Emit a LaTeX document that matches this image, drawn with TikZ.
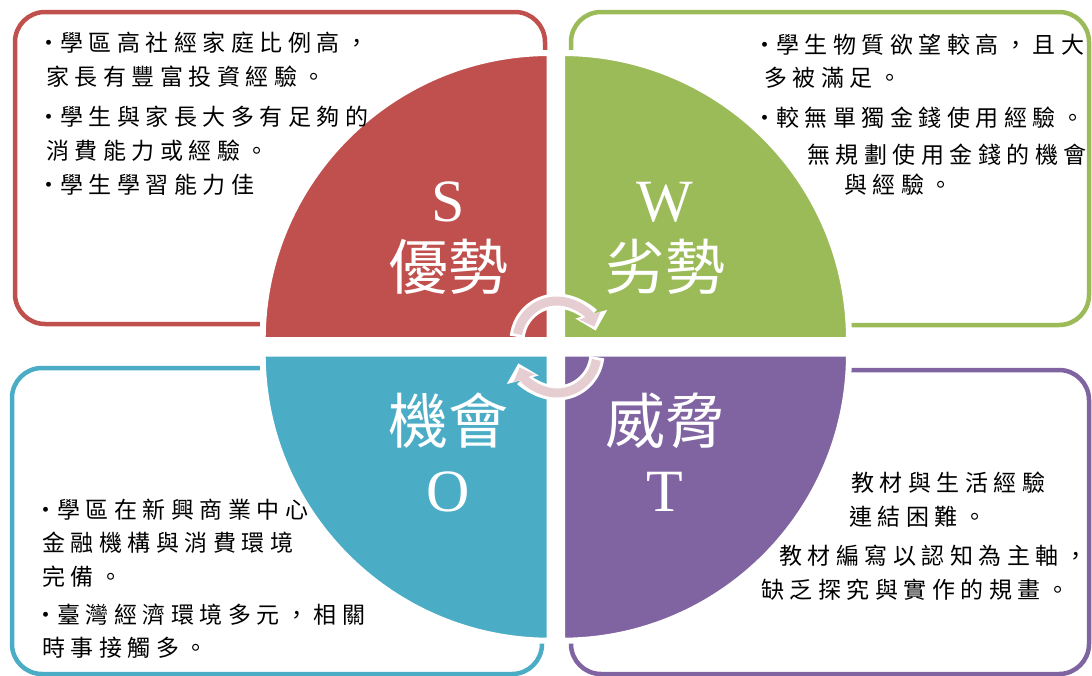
\documentclass[tikz,border=0pt]{standalone}
\usepackage{fontspec}
\newfontfamily\cjk[LetterSpace=24]{Noto Sans CJK TC}
\newfontfamily\cjkbig{Noto Sans CJK TC}
\newfontfamily\lat{Liberation Serif}
\usetikzlibrary{arrows.meta}
\definecolor{swotred}{HTML}{C0504D}
\definecolor{swotgreen}{HTML}{9BBB59}
\definecolor{swotblue}{HTML}{4BACC6}
\definecolor{swotpurple}{HTML}{8064A2}
\definecolor{cyclepink}{RGB}{230,205,209}
\newcommand{\swotbullet}{\makebox[17pt][l]{\hspace{-6pt}\textbullet}}
\tikzset{
    boxframe/.style={draw, line width=4.5pt, rounded corners=30pt},
    quarter/.style={draw=white, line width=6pt},
    tag/.style={text=white, align=center, inner sep=0pt, font=\fontsize{60}{68}\selectfont},
    txt/.style={anchor=west, inner sep=0pt, font=\fontsize{23}{28}\cjk},
    cycleback/.style={white, line width=15pt, -{Triangle[length=17pt, width=32pt]}},
    cyclefront/.style={cyclepink, line width=9pt, -{Triangle[length=12pt, width=22pt]}}
}
\begin{document}
\begin{tikzpicture}[x=1pt, y=-1pt]
    \useasboundingbox (0,0) rectangle (1092,675);
    % frames round the four fields
    \draw[boxframe, swotred] (15,12) rectangle (545,324);
    \draw[boxframe, swotgreen] (571,12) rectangle (1089,325);
    \draw[boxframe, swotblue] (12,368) rectangle (542,674);
    \draw[boxframe, swotpurple] (571,370) rectangle (1089,674);
    % the four quarters
    \filldraw[quarter, fill=swotred] (549.7,340) -- ++(-287,0) arc[start angle=180, end angle=270, radius=287] -- cycle;
    \filldraw[quarter, fill=swotgreen] (562,340) -- ++(0,-287) arc[start angle=270, end angle=360, radius=287] -- cycle;
    \filldraw[quarter, fill=swotblue] (549.7,353.7) -- ++(-287,0) arc[start angle=180, end angle=90, radius=287] -- cycle;
    \filldraw[quarter, fill=swotpurple] (562,353.7) -- ++(287,0) arc[start angle=0, end angle=90, radius=287] -- cycle;
    \node[tag] (s) at (448,238) {{\lat S}\\{\cjkbig 優勢}};
    \node[tag] (w) at (665,238) {{\lat W}\\{\cjkbig 劣勢}};
    \node[tag] (o) at (448,452) {{\cjkbig 機會}\\{\lat O}};
    \node[tag] (t) at (665,452) {{\cjkbig 威脅}\\{\lat T}};
    % cycle arrows in the middle
    \draw[cycleback] (557,341) ++(186:40) arc[start angle=186, end angle=345, radius=40];
    \draw[cyclefront] (557,341) ++(190:40) arc[start angle=190, end angle=339, radius=40];
    \draw[cycleback] (557,353) ++(6:40) arc[start angle=6, end angle=165, radius=40];
    \draw[cyclefront] (557,353) ++(10:40) arc[start angle=10, end angle=159, radius=40];
    % strengths
    \node[txt] (r1) at (43,43) {\swotbullet 學區高社經家庭比例高，};
    \node[txt] (r2) at (46,77) {家長有豐富投資經驗。};
    \node[txt] (r3) at (43,117) {\swotbullet 學生與家長大多有足夠的};
    \node[txt] (r4) at (46,151) {消費能力或經驗。};
    \node[txt] (r5) at (43,185) {\swotbullet 學生學習能力佳};
    % weaknesses
    \node[txt] (g1) at (759,45) {\swotbullet 學生物質欲望較高，且大};
    \node[txt] (g2) at (764,78) {多被滿足。};
    \node[txt] (g3) at (759,118) {\swotbullet 較無單獨金錢使用經驗。};
    \node[txt] (g4) at (807,155) {無規劃使用金錢的機會};
    \node[txt] (g5) at (844,185) {與經驗。};
    % opportunities
    \node[txt] (b1) at (40,510) {\swotbullet 學區在新興商業中心};
    \node[txt] (b2) at (42,543) {金融機構與消費環境};
    \node[txt] (b3) at (42,577) {完備。};
    \node[txt] (b4) at (40,615) {\swotbullet 臺灣經濟環境多元，相關};
    \node[txt] (b5) at (42,648) {時事接觸多。};
    % threats
    \node[txt] (p1) at (851,483) {教材與生活經驗};
    \node[txt] (p2) at (849,517) {連結困難。};
    \node[txt] (p3) at (779,556) {教材編寫以認知為主軸，};
    \node[txt] (p4) at (761,590) {缺乏探究與實作的規畫。};
\end{tikzpicture}
\end{document}
